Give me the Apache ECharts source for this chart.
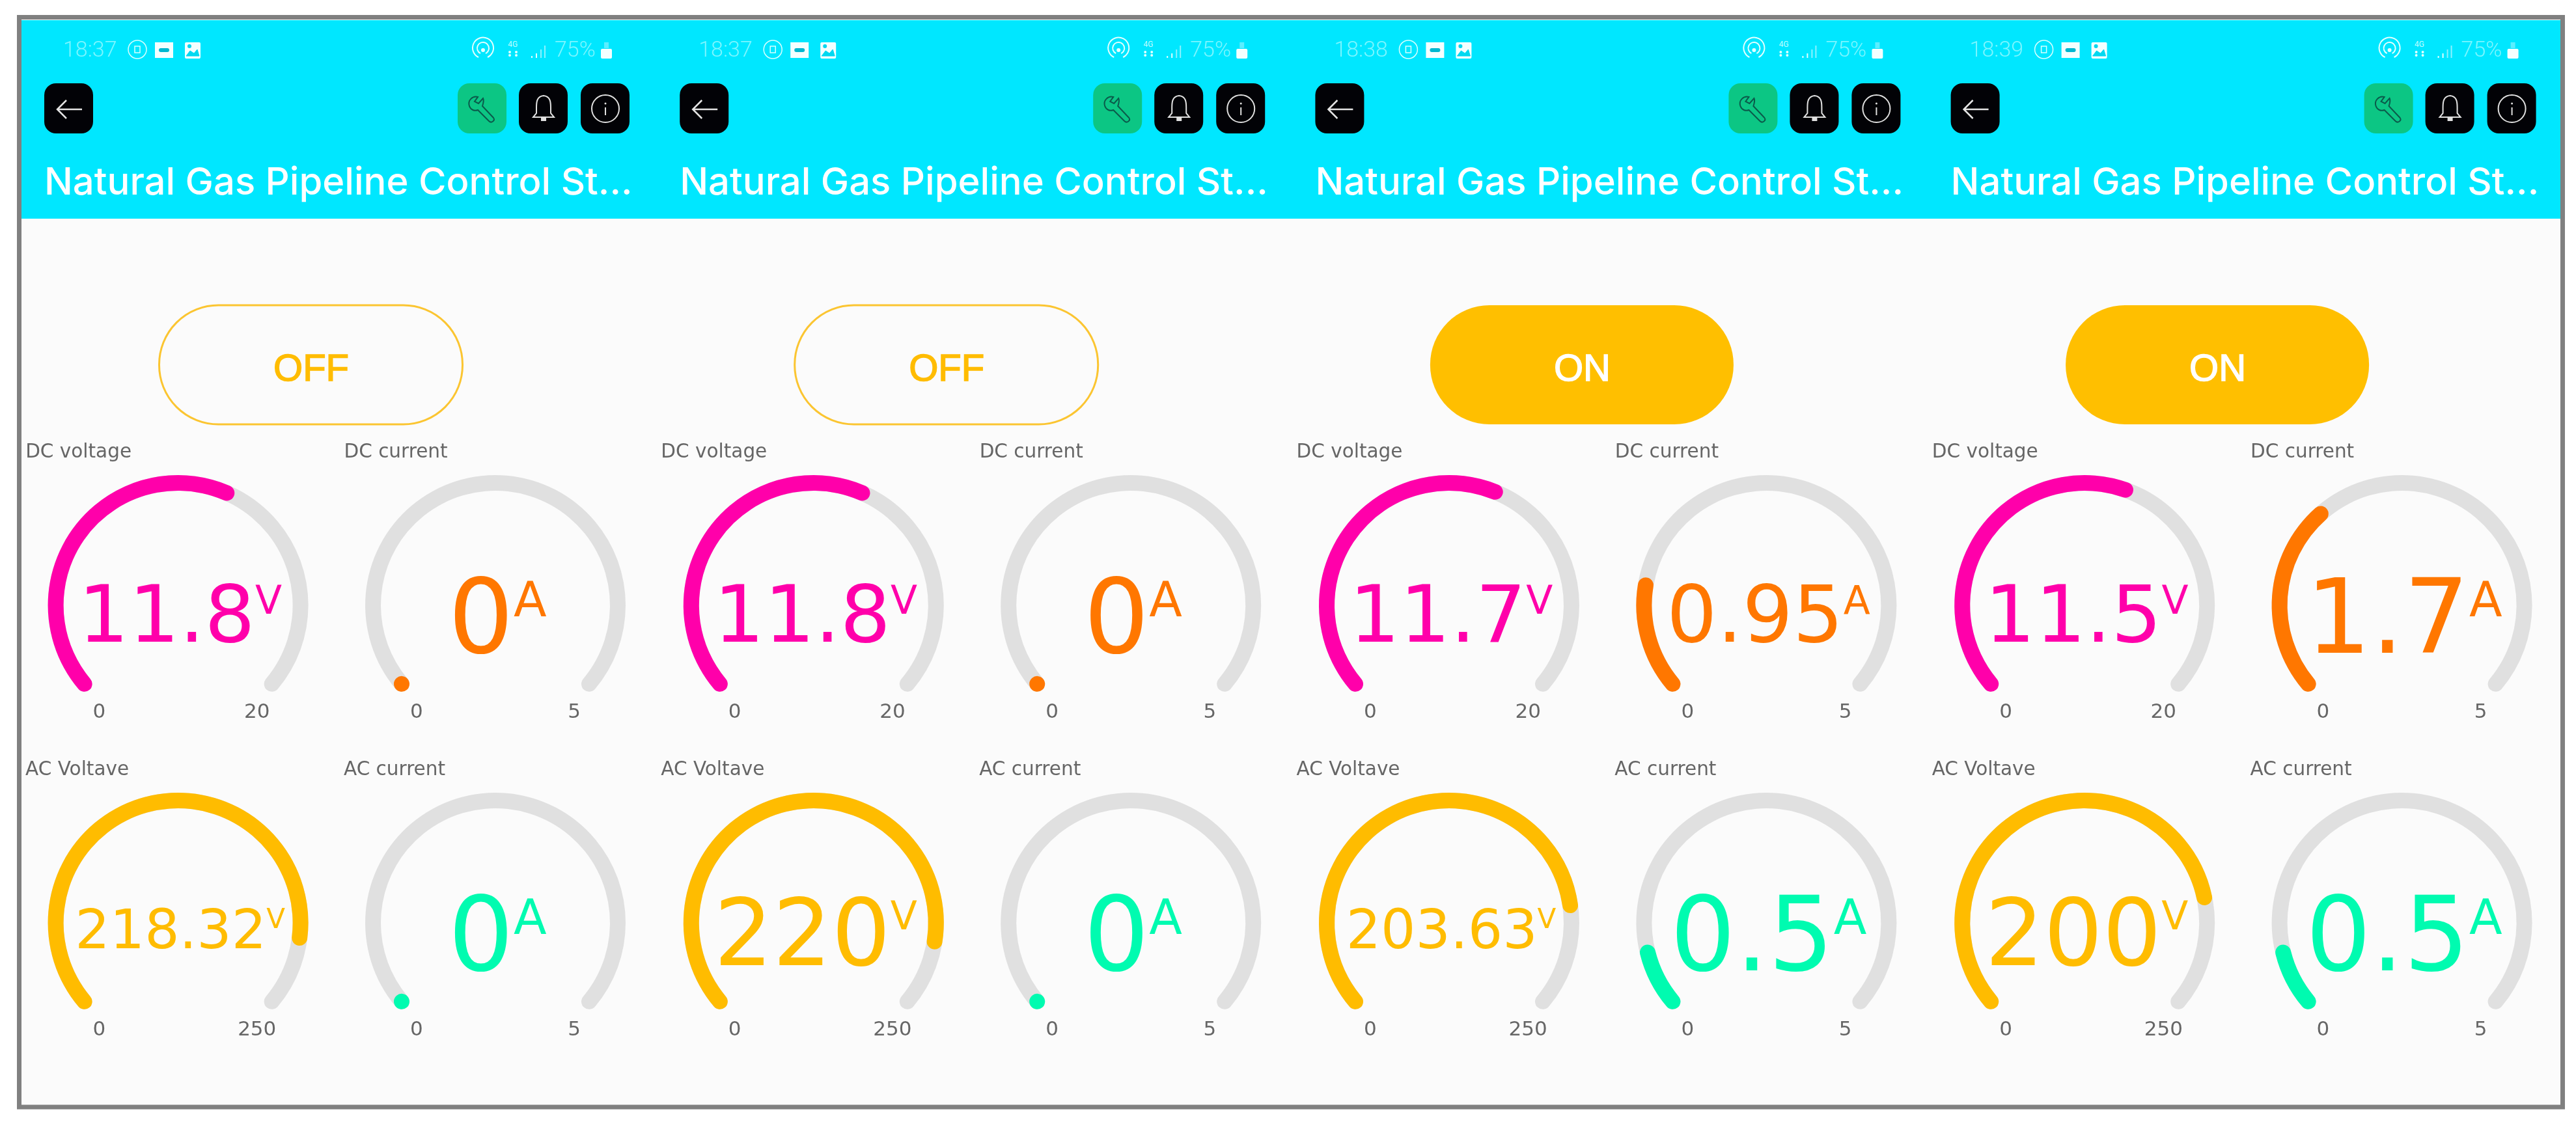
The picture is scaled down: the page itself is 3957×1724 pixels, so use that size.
<!DOCTYPE html>
<html><head><meta charset="utf-8">
<style>html,body{margin:0;padding:0;background:#fff}#c{width:3957px;height:1724px}</style>
<script src="https://cdn.jsdelivr.net/npm/echarts@6/dist/echarts.min.js"></script>
</head><body><div id="c"></div>
<script>
const panelTimes = ['18:37', '18:37', '18:38', '18:39'];
const switchStates = ['OFF', 'OFF', 'ON', 'ON'];
const batteryText = '75%';
const appTitle = 'Natural Gas Pipeline Control St...';
const gaugeNames = ['DC voltage', 'DC current', 'AC Voltave', 'AC current'];
const gaugeUnits = ['V', 'A', 'V', 'A'];
const gaugeMaxima = [20, 5, 250, 5];
const dcVoltage = [11.8, 11.8, 11.7, 11.5];
const dcCurrent = [0, 0, 0.95, 1.7];
const acVoltage = [218.32, 220, 203.63, 200];
const acCurrent = [0, 0, 0.5, 0.5];

const PITCH = 976.2, COLX = [273.6, 761], ROWY = [930, 1418];
const R = 200, W = 24;
const gaugeValues = [dcVoltage, dcCurrent, acVoltage, acCurrent];
const gaugeColors = ['#FF00AA', '#FF7700', '#FFBC00', '#00FBB0'];
const FONT = '"DejaVu Sans"', UI = '"Liberation Sans"';
const sizeFor = t => t.length <= 2 || t.includes('.') && t.length === 3 ? 158 : t.length === 3 ? 142 : t.length === 4 ? 122 : 84;
const unitFor = fs => fs === 158 ? 74 : fs === 84 ? 42 : 60;

const series = [];
panelTimes.forEach((_, p) => {
  gaugeNames.forEach((name, g) => {
    const cx = COLX[g % 2] + p * PITCH, cy = ROWY[g >> 1];
    const val = gaugeValues[g][p], text = String(val), fs = sizeFor(text), us = unitFor(fs);
    series.push({
      type: 'gauge', center: [cx, cy], radius: R, startAngle: 220, endAngle: -40,
      min: 0, max: gaugeMaxima[g], splitNumber: 1, animation: false, silent: true,
      axisLine: { roundCap: true, lineStyle: { width: W, color: [[1, '#E0E0E0']] } },
      progress: { show: true, roundCap: true, width: W, itemStyle: { color: gaugeColors[g] } },
      pointer: { show: false }, anchor: { show: false },
      axisTick: { show: false }, splitLine: { show: false }, axisLabel: { show: false },
      title: { show: true, offsetCenter: [g >> 1 ? -155 : -153, -235], color: '#666', fontFamily: FONT, fontSize: 29.5 },
      detail: {
        show: true, offsetCenter: [3, Math.round(fs * 0.2)], valueAnimation: false, fontWeight: 'normal',
        formatter: v => `{v|${v}}{u|${gaugeUnits[g]}}`,
        rich: {
          v: { fontFamily: FONT, fontWeight: 'normal', fontSize: fs, color: gaugeColors[g] },
          u: { fontFamily: FONT, fontWeight: 'normal', fontSize: us, color: gaugeColors[g], padding: [0, 0, Math.round(0.729 * (fs - us)) + 8, 0] }
        }
      },
      data: [{ value: val, name }]
    });
    series.push({
      type: 'gauge', center: [cx, cy], radius: 223.7, startAngle: 227.5, endAngle: -47.5,
      min: 0, max: gaugeMaxima[g], splitNumber: 1, animation: false, silent: true,
      axisLine: { show: false, lineStyle: { width: 0 } }, progress: { show: false }, pointer: { show: false }, anchor: { show: false },
      axisTick: { show: false }, splitLine: { show: false, length: 0, distance: 0 },
      axisLabel: { show: true, distance: 0, formatter: v => `{t|${v}}`,
        rich: { t: { width: 60, align: 'center', color: '#666', fontFamily: FONT, fontSize: 31 } } },
      title: { show: false }, detail: { show: false }, data: [{ value: 0 }]
    });
  });
});

const graphic = [];
const add = o => { graphic.push(Object.assign({ silent: true }, o)); };
add({ type: 'rect', z: -10, shape: { x: 33, y: 30, width: 3900, height: 1667 }, style: { fill: '#FBFBFB' } });
add({ type: 'rect', z: -9, shape: { x: 33, y: 31, width: 3900, height: 305 }, style: { fill: '#00E7FF' } });
add({ type: 'rect', z: 5, shape: { x: 29.5, y: 26.5, width: 3907, height: 1674.5 }, style: { fill: 'none', stroke: '#808080', lineWidth: 7 } });

let shapeCount = 0;
const iconShapes = {};
const shapeFor = d => {
  if (!iconShapes[d]) {
    iconShapes[d] = 'icon' + (shapeCount++);
    echarts.graphic.registerShape(iconShapes[d], echarts.graphic.extendPath(d, {}));
  }
  return iconShapes[d];
};

const btn = (x, color) => add({ type: 'rect', z: 1, shape: { x, y: 128, width: 75, height: 77, r: 18 }, style: { fill: color } });
const stroke = (o, d, color, lw, fill) => add({ type: shapeFor(d), x: o, z: 2, style: { fill: fill || 'none', stroke: color, lineWidth: lw } });
const tx = (text, x, y, size, color, family, align, opacity, weight, bold) => add({ type: 'text', z: 2, x, y, style: { text, fill: color, fontSize: size, fontFamily: family, fontWeight: weight || 'normal', align: align || 'left', verticalAlign: 'middle', opacity: opacity == null ? 1 : opacity, stroke: bold ? color : null, lineWidth: bold || 0 } });

panelTimes.forEach((time, p) => {
  const o = p * PITCH, X = v => v + o;
  tx(time, X(97), 78, 34, '#CFFFFF', 'Roboto', 'left', 0.6, 300);
  add({ type: 'circle', z: 2, shape: { cx: X(211), cy: 76, r: 14 }, style: { fill: 'none', stroke: '#D8FFFF', lineWidth: 1.5 } });
  add({ type: 'rect', z: 2, shape: { x: X(207), y: 71, width: 8, height: 10 }, style: { fill: 'none', stroke: '#D8FFFF', lineWidth: 1.5 } });
  add({ type: 'rect', z: 2, shape: { x: X(238), y: 65, width: 28, height: 24 }, style: { fill: '#F4FFFF' } });
  add({ type: 'rect', z: 2, shape: { x: X(244), y: 74, width: 16, height: 6, r: 3 }, style: { fill: '#00B8D0' } });
  add({ type: 'rect', z: 2, shape: { x: X(284), y: 65, width: 24, height: 25, r: 2 }, style: { fill: '#F4FFFF' } });
  stroke(o, 'M286 86 L292 78 L298 82 L303 76 L306 86 Z', '#00D8F0', 1, '#00D8F0');
  add({ type: 'circle', z: 2, shape: { cx: X(291), cy: 71, r: 3 }, style: { fill: '#00D8F0' } });

  stroke(o, 'M735 88 A16 16 0 1 1 749 88', '#E2FFFF', 2);
  stroke(o, 'M738 82 A9 9 0 1 1 746 82', '#E2FFFF', 2);
  add({ type: 'circle', z: 2, shape: { cx: X(742), cy: 77, r: 3 }, style: { fill: '#E2FFFF' } });
  tx('4G', X(788), 69, 12, '#D8FFFF', 'Roboto', 'center', 0.9);
  [[783, 85], [783, 80], [793, 80], [793, 85]].forEach(d => add({ type: 'circle', z: 2, shape: { cx: X(d[0]), cy: d[1], r: 2 }, style: { fill: '#E2FFFF' } }));
  [[816, 86], [823, 82], [830, 76], [836, 70]].forEach((b, i) => add({ type: 'rect', z: 2, shape: { x: X(b[0]), y: b[1], width: 2, height: 89 - b[1] }, style: { fill: i < 2 ? '#E2FFFF' : '#8CF2FF' } }));
  tx(batteryText, X(852), 78, 34, '#CFFFFF', 'Roboto', 'left', 0.6, 300);
  add({ type: 'rect', z: 2, shape: { x: X(923), y: 75, width: 17, height: 15, r: 2 }, style: { fill: '#F4FFFF' } });
  add({ type: 'rect', z: 2, shape: { x: X(928), y: 65, width: 7, height: 9 }, style: { fill: '#5CEEFF' } });

  btn(X(68), '#020206');
  stroke(o, 'M126 168 L88 168 M102 154 L88 168 L102 182', '#E4E4E4', 2.5);
  btn(X(703), '#0CC684');
  stroke(o, 'M734 149 C726 147 718 154 721 163 C723 169 729 171 734 169 L751 186 C755 190 761 185 758 181 L741 163 C743 157 743 153 742 151 L735 159 L729 156 Z', '#0B5A4A', 2);
  btn(X(797), '#020206');
  stroke(o, 'M835 147 C825 148 824 156 824 165 L824 174 L819 180 L851 180 L846 174 L846 165 C846 156 845 148 835 147 Z', '#E0E0E0', 2);
  add({ type: 'rect', z: 2, shape: { x: X(831), y: 181, width: 8, height: 5 }, style: { fill: '#E0E0E0' } });
  btn(X(892), '#020206');
  add({ type: 'circle', z: 2, shape: { cx: X(930), cy: 167, r: 21 }, style: { fill: 'none', stroke: '#E0E0E0', lineWidth: 2 } });
  stroke(o, 'M930 165 L930 177', '#E0E0E0', 2);
  add({ type: 'circle', z: 2, shape: { cx: X(930), cy: 159, r: 1.5 }, style: { fill: '#E0E0E0' } });

  tx(appTitle, X(68), 282, 58, '#FFFFFF', 'Inter', 'left', 1, 500);

  const on = switchStates[p] === 'ON';
  add({ type: 'rect', z: 1, shape: { x: X(244.5), y: 469, width: 466, height: 183, r: 91 }, style: on ? { fill: '#FFBF00' } : { fill: 'none', stroke: '#FBC531', lineWidth: 3 } });
  tx(switchStates[p], X(478), 569, 58, on ? '#FFFFFF' : '#FFBC00', UI, 'center', 1, 'normal', 1.5);
});

const chart = echarts.init(document.getElementById('c'), null, { renderer: 'canvas', width: 3957, height: 1724 });
chart.setOption({ backgroundColor: '#FFFFFF', animation: false, series, graphic: { elements: graphic } });
</script></body></html>
